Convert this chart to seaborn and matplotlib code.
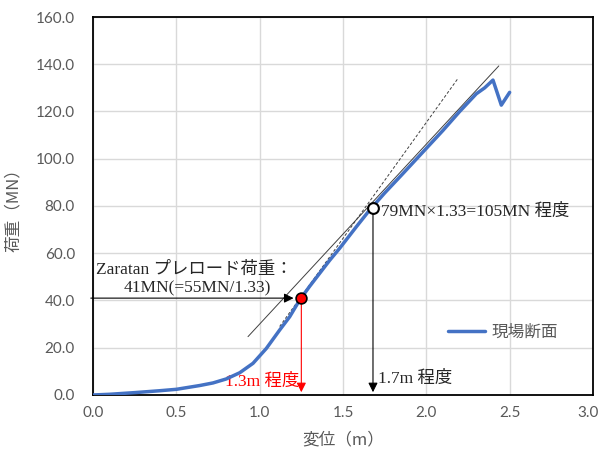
import numpy as np
import pandas as pd
import matplotlib.pyplot as plt
import matplotlib.transforms as mtransforms
import seaborn as sns

# %% data
disp = [0.0, 0.1, 0.25, 0.4, 0.5, 0.64, 0.72, 0.8, 0.88, 0.96, 1.04, 1.12, 1.18,
        1.24, 1.30, 1.36, 1.42, 1.48, 1.58, 1.66, 1.75, 1.85, 2.0, 2.1, 2.2, 2.3,
        2.35, 2.4, 2.45, 2.5]
load = [0.0, 0.3, 1.0, 1.8, 2.4, 4.0, 5.1, 6.8, 9.4, 13.4, 19.7, 27.5, 33.1,
        40.2, 46.0, 51.5, 57.0, 62.1, 71.2, 78.3, 85.5, 93.0, 104.4, 112.0, 120.0,
        127.5, 130.0, 133.3, 122.7, 128.1]
series_name = '現場断面'

preload_x, preload_y = 1.25, 41
peak_x, peak_y = 1.68, 79
tangent_x = [0.93, 2.435]
tangent_y = [24.7, 139.3]
dashed_x = [1.12, 2.19]
dashed_y = [29.0, 134.0]

df = pd.DataFrame({'変位': disp, '荷重': load, 'name': series_name})

# %% plot
sns.set_style('white')
plt.rcParams['font.family'] = ['Noto Sans CJK JP', 'DejaVu Sans']
serif = ['Liberation Serif', 'Noto Sans CJK JP']
grey = '#595959'

fig = plt.figure(figsize=(6.02, 4.57), dpi=100)
ax = fig.add_axes([0.1545, 0.1357, 0.8305, 0.8271])

ax.plot(tangent_x, tangent_y, color='#404040', lw=0.7, zorder=3)
ax.plot(dashed_x, dashed_y, color='#404040', lw=0.7, ls=(0, (3, 2)), zorder=3)

sns.lineplot(data=df, x='変位', y='荷重', hue='name', palette=['#4472C4'],
             lw=2.5, ax=ax, zorder=4, sort=False)

# arrows
ax.annotate('', xy=(preload_x - 0.03, preload_y), xytext=(-0.03, preload_y),
            arrowprops=dict(arrowstyle='-|>', color='black', lw=0.8,
                            mutation_scale=14), annotation_clip=False, zorder=5)
ax.annotate('', xy=(preload_x, 0), xytext=(preload_x, preload_y),
            arrowprops=dict(arrowstyle='-|>', color='red', lw=0.8,
                            mutation_scale=14), zorder=5)
ax.annotate('', xy=(peak_x, 0), xytext=(peak_x, peak_y),
            arrowprops=dict(arrowstyle='-|>', color='black', lw=0.8,
                            mutation_scale=14), zorder=5)

ax.scatter([preload_x], [preload_y], s=60, color='red', edgecolor='black',
           lw=1.2, zorder=6)
ax.scatter([peak_x], [peak_y], s=60, color='white', edgecolor='black',
           lw=1.5, zorder=6)

# texts
fs = 12.5
ax.text(0.02, 53, 'Zaratan プレロード荷重：', family=serif, fontsize=fs,
        va='center', ha='left')
ax.text(0.625, 45, '41MN(=55MN/1.33)', family=serif, fontsize=fs,
        va='center', ha='center')
ax.text(1.73, 77.5, '79MN×1.33=105MN 程度', family=serif, fontsize=fs,
        va='center', ha='left')
ax.text(1.235, 5.5, '1.3m 程度', family=serif, fontsize=fs, color='red',
        va='center', ha='right')
ax.text(1.71, 6.8, '1.7m 程度', family=serif, fontsize=fs,
        va='center', ha='left')

ax.set_xlim(0, 3)
ax.set_ylim(0, 160)
ax.set_xticks(np.arange(0, 3.01, 0.5))
ax.set_yticks(np.arange(0, 160.1, 20))
ax.xaxis.set_major_formatter(plt.FormatStrFormatter('%.1f'))
ax.yaxis.set_major_formatter(plt.FormatStrFormatter('%.1f'))
ax.tick_params(length=0, labelsize=11, labelcolor=grey)
ax.tick_params(axis='y', pad=13)
ax.tick_params(axis='x', pad=8)
for lab in ax.get_xticklabels() + ax.get_yticklabels():
    lab.set_family(['Lato', 'Noto Sans CJK JP'])
# nudge the last x label so it stays inside the figure
last = ax.get_xticklabels()[-1]
last.set_transform(last.get_transform() +
                   mtransforms.ScaledTranslation(-5 / 100, 0, fig.dpi_scale_trans))
ax.grid(True, color='#d9d9d9', lw=1)
for s in ax.spines.values():
    s.set_color('black')
    s.set_linewidth(1.3)

ax.set_xlabel('変位（m）', fontsize=12, color=grey, labelpad=8)
ax.set_ylabel('荷重（MN）', fontsize=12, color=grey, labelpad=10)

leg = ax.legend(frameon=False, fontsize=12, loc='center left',
                bbox_to_anchor=(0.68, 0.167), handlelength=2.2, handletextpad=0.4)
for t in leg.get_texts():
    t.set_color(grey)

plt.savefig('out.png', dpi=100)
